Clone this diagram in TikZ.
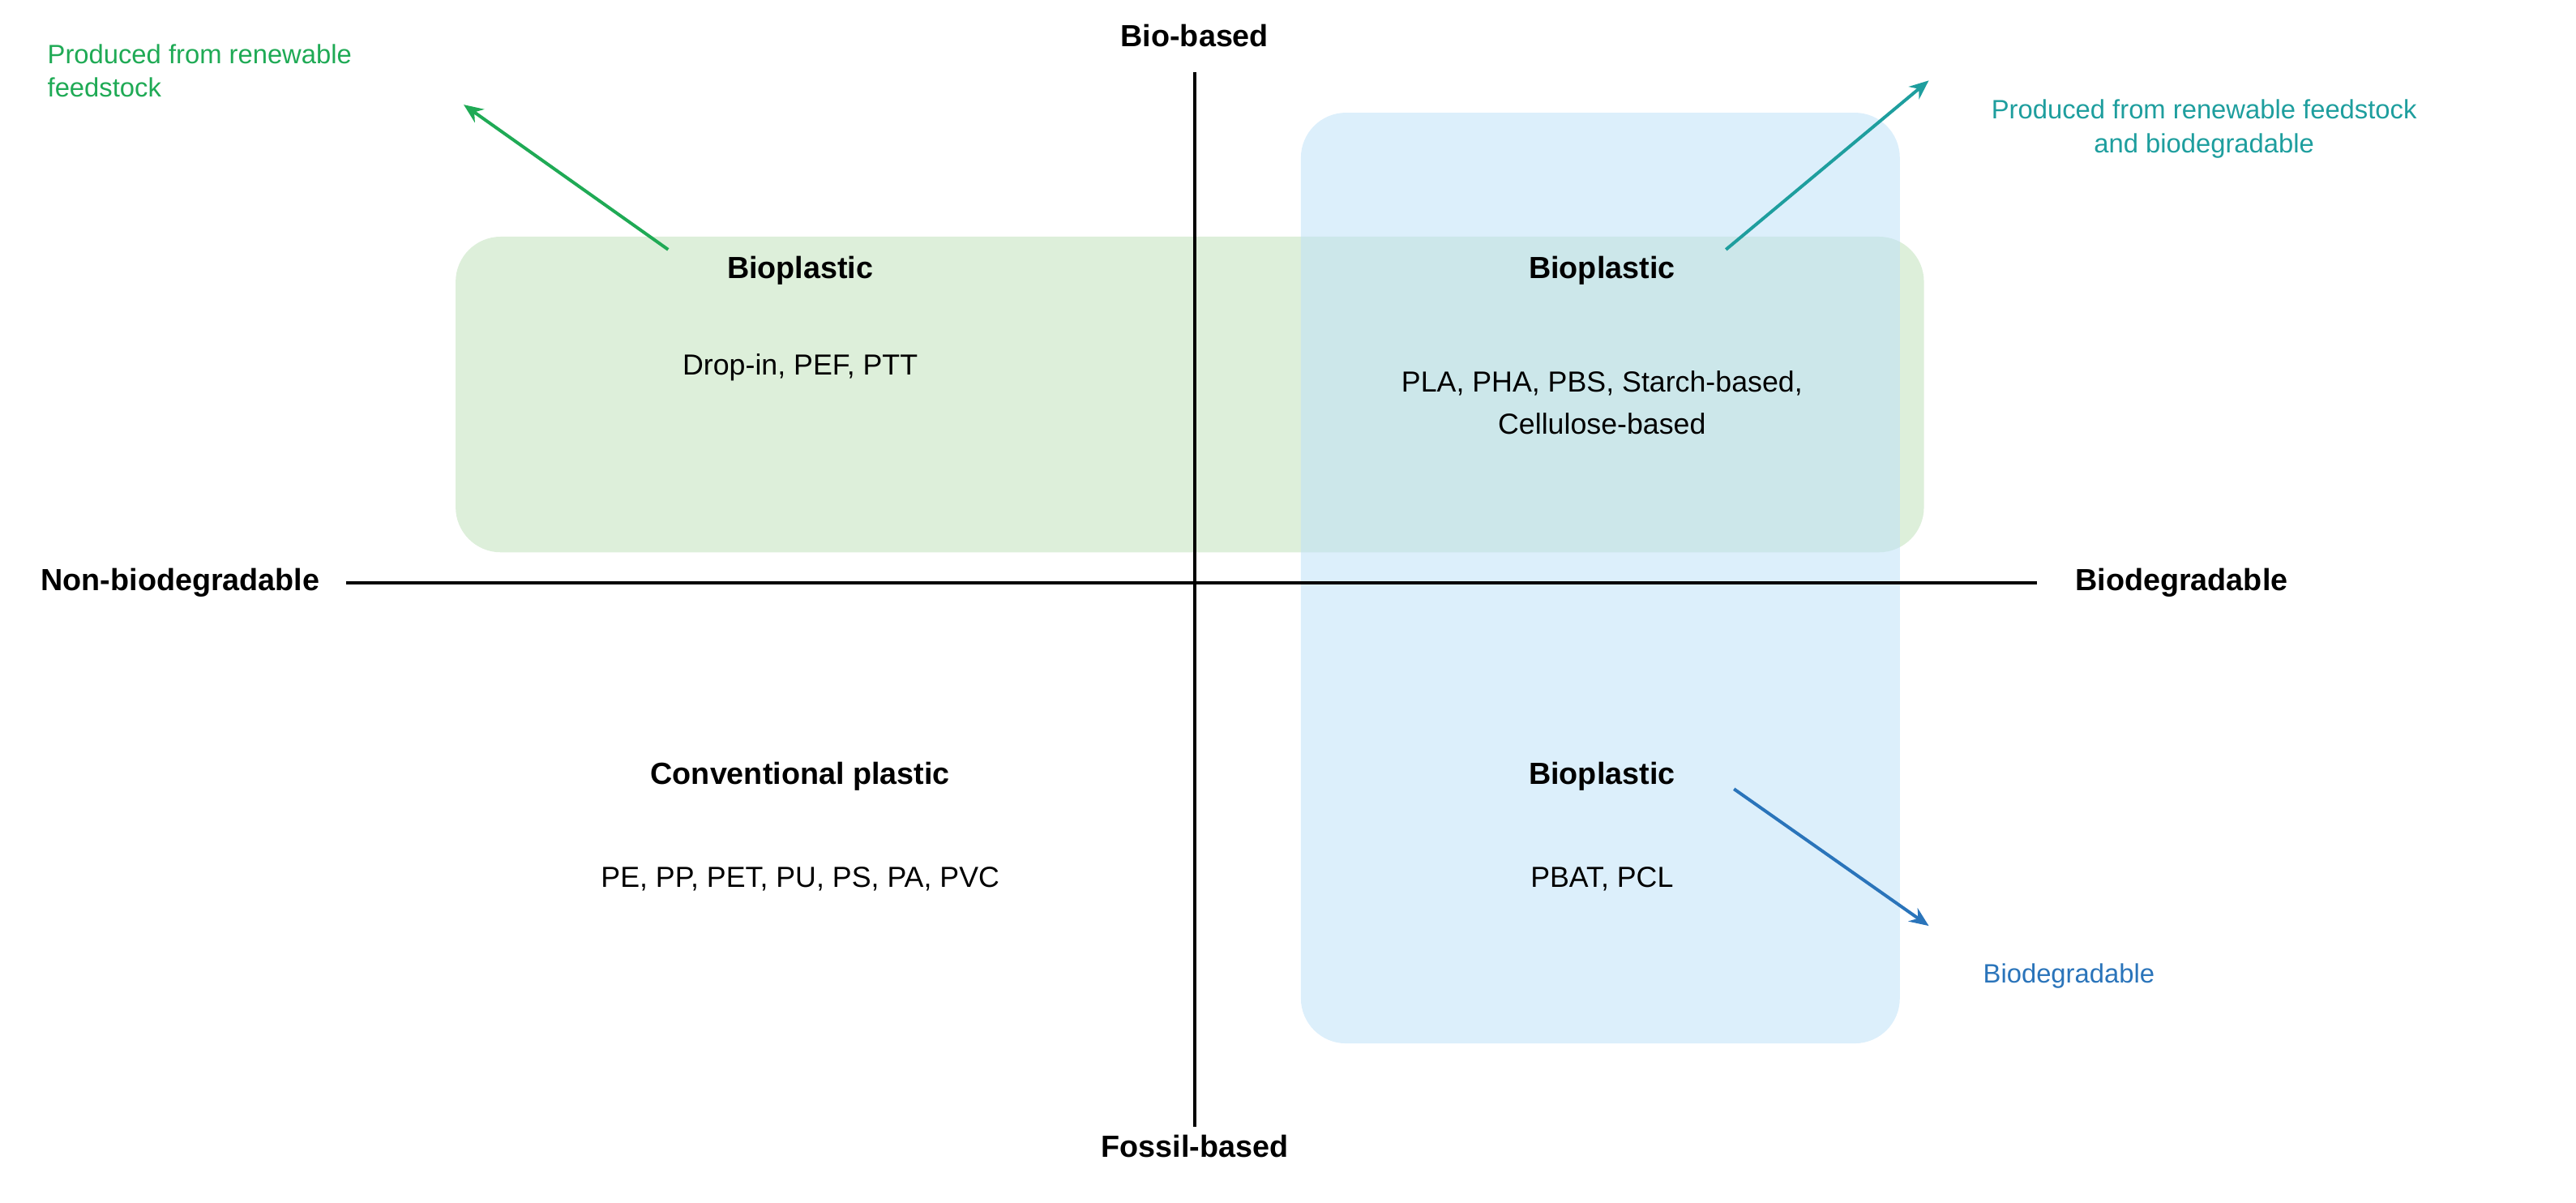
\documentclass[tikz,border=0pt]{standalone}
\usepackage{fontspec}
\setmainfont{Liberation Sans}
\usetikzlibrary{arrows.meta}
\begin{document}
\begin{tikzpicture}[x=1pt,y=-1pt,
  hd/.style={font=\fontsize{19}{22}\selectfont\bfseries},
  tx/.style={font=\fontsize{18}{22}\selectfont},
  ax/.style={font=\fontsize{19}{22}\selectfont\bfseries},
  lb/.style={font=\fontsize{16.5}{21}\selectfont,align=center},
  arr/.style={line width=2pt,-{Stealth[length=12pt,width=10pt]}}]
\useasboundingbox (0,0) rectangle (1600,747);
\definecolor{gfill}{HTML}{CBE6C6}
\definecolor{bfill}{HTML}{BFE1F8}
\definecolor{garr}{HTML}{1FAA55}
\definecolor{tarr}{HTML}{1E9E9E}
\definecolor{barr}{HTML}{2A74BA}
\fill[gfill,opacity=0.65,rounded corners=28pt] (283,147) rectangle (1195,343);
\fill[bfill,opacity=0.55,rounded corners=28pt] (808,70) rectangle (1180,648);
\draw[line width=2pt] (742,45) coordinate (vt) -- (742,700) coordinate (vb);
\draw[line width=2pt] (215,362) coordinate (hl) -- (1265,362) coordinate (hr);
\node[ax] (bio) at (742,22) {Bio-based};
\node[ax] (fos) at (742,712) {Fossil-based};
\node[ax] (nb) at (112,362) {Non-biodegradable};
\node[ax] (bd) at (1355,362) {Biodegradable};
\node[hd] (h1) at (497,168) {Bioplastic};
\node[tx] (t1) at (497,228) {Drop-in, PEF, PTT};
\node[hd] (h2) at (995,168) {Bioplastic};
\node[tx,align=center] (t2) at (995,250) {PLA, PHA, PBS, Starch-based,\\[4pt]Cellulose-based};
\node[hd] (h3) at (497,482) {Conventional plastic};
\node[tx] (t3) at (497,546) {PE, PP, PET, PU, PS, PA, PVC};
\node[hd] (h4) at (995,482) {Bioplastic};
\node[tx] (t4) at (995,546) {PBAT, PCL};
\coordinate (g1) at (415,155); \coordinate (g2) at (288,65);
\coordinate (c1) at (1072,155); \coordinate (c2) at (1198,50);
\coordinate (b1) at (1077,490); \coordinate (b2) at (1198,575);
\draw[arr,garr] (g1) -- (g2);
\draw[arr,tarr] (c1) -- (c2);
\draw[arr,barr] (b1) -- (b2);
\node[lb,text=garr,align=left,anchor=west] (lg) at (26,44) {Produced from renewable\\feedstock};
\node[lb,text=tarr] (lt) at (1369,80) {Produced from renewable feedstock\\and biodegradable};
\node[lb,text=barr] (lbd) at (1285,606) {Biodegradable};
\end{tikzpicture}
\end{document}
